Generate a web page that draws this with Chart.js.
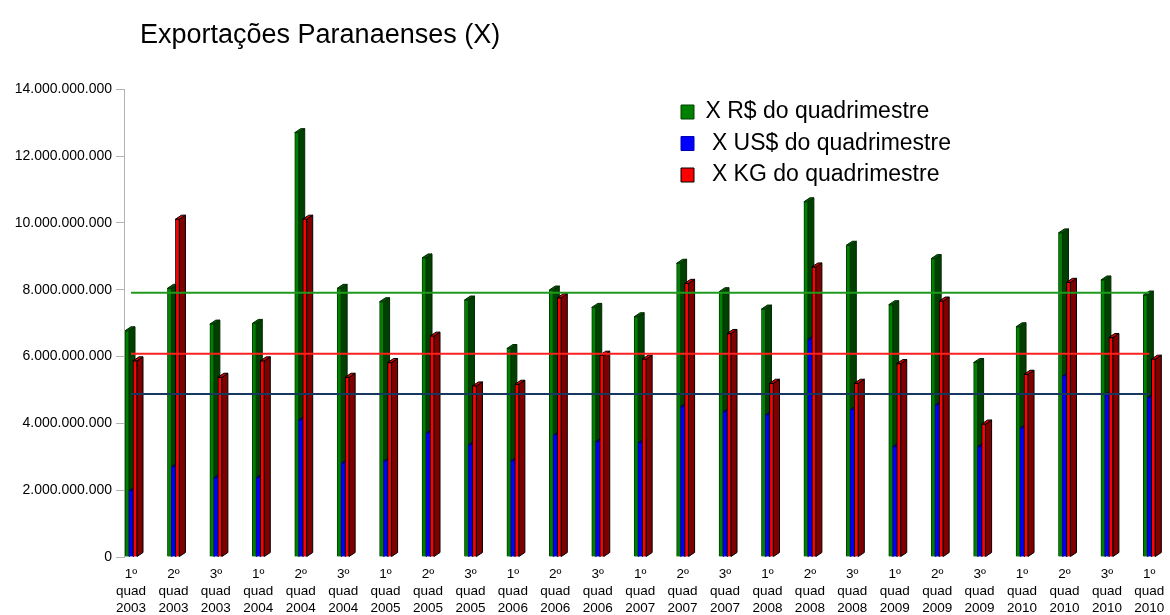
<!DOCTYPE html>
<html lang="pt-BR">
<head>
<meta charset="utf-8">
<title>Exportações Paranaenses (X)</title>
<script src="https://cdn.jsdelivr.net/npm/chart.js@4/dist/chart.umd.min.js"></script>
<style>
  html, body { margin: 0; padding: 0; background: #fff; }
  #caixa { width: 1170px; height: 615px; }
</style>
</head>
<body>
<div id="caixa"><canvas id="grafico"></canvas></div>
<script>
// quadrimestres (rótulos do eixo x, 3 linhas cada)
const rotulos = [
  ['1º', 'quad', '2003'], ['2º', 'quad', '2003'], ['3º', 'quad', '2003'],
  ['1º', 'quad', '2004'], ['2º', 'quad', '2004'], ['3º', 'quad', '2004'],
  ['1º', 'quad', '2005'], ['2º', 'quad', '2005'], ['3º', 'quad', '2005'],
  ['1º', 'quad', '2006'], ['2º', 'quad', '2006'], ['3º', 'quad', '2006'],
  ['1º', 'quad', '2007'], ['2º', 'quad', '2007'], ['3º', 'quad', '2007'],
  ['1º', 'quad', '2008'], ['2º', 'quad', '2008'], ['3º', 'quad', '2008'],
  ['1º', 'quad', '2009'], ['2º', 'quad', '2009'], ['3º', 'quad', '2009'],
  ['1º', 'quad', '2010'], ['2º', 'quad', '2010'], ['3º', 'quad', '2010'],
  ['1º', 'quad', '2010']
];

const valoresRS = [6.77e9, 8.04e9, 6.97e9, 6.99e9, 12.70e9, 8.04e9, 7.64e9, 8.95e9, 7.69e9, 6.24e9,
  7.99e9, 7.47e9, 7.19e9, 8.79e9, 7.94e9, 7.42e9, 10.63e9, 9.33e9, 7.55e9, 8.93e9,
  5.82e9, 6.89e9, 9.70e9, 8.29e9, 7.84e9];
const valoresUS = [1.98e9, 2.70e9, 2.37e9, 2.37e9, 4.10e9, 2.80e9, 2.86e9, 3.70e9, 3.35e9, 2.87e9,
  3.64e9, 3.45e9, 3.42e9, 4.49e9, 4.34e9, 4.25e9, 6.51e9, 4.41e9, 3.30e9, 4.55e9,
  3.30e9, 3.85e9, 5.41e9, 4.85e9, 4.77e9];
const valoresKG = [5.87e9, 10.11e9, 5.38e9, 5.87e9, 10.11e9, 5.38e9, 5.82e9, 6.61e9, 5.12e9, 5.17e9,
  7.76e9, 6.04e9, 5.92e9, 8.19e9, 6.69e9, 5.20e9, 8.68e9, 5.20e9, 5.79e9, 7.66e9,
  3.98e9, 5.47e9, 8.22e9, 6.57e9, 5.92e9];

// linhas horizontais (médias)
const mediaRS = 7.91e9;
const mediaKG = 6.08e9;
const mediaUS = 4.88e9;

const yMax = 14e9;
const yPasso = 2e9;

const PROF = 6;   // profundidade do efeito 3D
const SOBE = 4;

Chart.defaults.font.family = '"Liberation Sans", Arial, sans-serif';
Chart.defaults.color = '#000';

function pontos(vals) {
  return vals.map((v, i) => ({ x: i, y: v }));
}
function linha(v) {
  return [{ x: 0, y: v }, { x: rotulos.length - 1, y: v }];
}
function milhar(v) {
  return String(v).replace(/\B(?=(\d{3})+(?!\d))/g, '.');
}

// desenha as barras com face lateral e topo (3D)
const barras3d = {
  id: 'barras3d',
  beforeDatasetDraw(chart, args) {
    if (args.meta.type === 'bar') return false;
  },
  beforeDatasetsDraw(chart) {
    const ctx = chart.ctx;
    chart.data.datasets.forEach((ds, i) => {
      const meta = chart.getDatasetMeta(i);
      if (meta.type !== 'bar' || meta.hidden) return;
      meta.data.forEach(bar => {
        const xl = bar.x - bar.width / 2;
        const xr = bar.x + bar.width / 2;
        const topo = bar.y, base = bar.base;
        ctx.save();
        ctx.lineWidth = 1;
        ctx.strokeStyle = ds.corBordaLado;
        ctx.fillStyle = ds.corLado;
        ctx.beginPath();
        ctx.moveTo(xr, topo);
        ctx.lineTo(xr + PROF, topo - SOBE);
        ctx.lineTo(xr + PROF, base - SOBE);
        ctx.lineTo(xr, base);
        ctx.closePath();
        ctx.fill();
        ctx.stroke();
        ctx.fillStyle = ds.corTopo;
        ctx.beginPath();
        ctx.moveTo(xl, topo);
        ctx.lineTo(xl + PROF, topo - SOBE);
        ctx.lineTo(xr + PROF, topo - SOBE);
        ctx.lineTo(xr, topo);
        ctx.closePath();
        ctx.fill();
        ctx.stroke();
        ctx.restore();
        bar.draw(ctx);
      });
    });
  }
};

// título e legenda nas posições do original
const posicoes = {
  id: 'posicoes',
  afterLayout(chart) {
    const t = chart.titleBlock;
    t.left = 140;
    t.right = 1170;
    const lg = chart.legend;
    const w = lg.width, h = lg.height;
    lg.left = 672.5;
    lg.top = 92;
    lg.right = lg.left + w;
    lg.bottom = lg.top + h;
  }
};

new Chart(document.getElementById('grafico'), {
  type: 'bar',
  data: {
    datasets: [{
      label: 'X R$ do quadrimestre',
      data: pontos(valoresRS),
      backgroundColor: '#008000',
      borderColor: '#004000',
      borderWidth: 1,
      corLado: '#004000',
      corTopo: '#005800',
      corBordaLado: '#002800',
      barThickness: 4
    }, {
      label: ' X US$ do quadrimestre',
      data: pontos(valoresUS),
      backgroundColor: '#0000ff',
      borderColor: '#0000b0',
      borderWidth: 1,
      corLado: '#000080',
      corTopo: '#0000c0',
      corBordaLado: '#000040',
      barThickness: 4
    }, {
      label: ' X KG do quadrimestre',
      data: pontos(valoresKG),
      backgroundColor: '#ff0000',
      borderColor: '#000000',
      borderWidth: 1,
      corLado: '#800000',
      corTopo: '#e00000',
      corBordaLado: '#000000',
      barThickness: 4
    }, {
      type: 'line',
      label: 'média R$',
      data: linha(mediaRS),
      borderColor: '#1f9a1f',
      borderWidth: 2,
      pointRadius: 0
    }, {
      type: 'line',
      label: 'média KG',
      data: linha(mediaKG),
      borderColor: '#ff2020',
      borderWidth: 2,
      pointRadius: 0
    }, {
      type: 'line',
      label: 'média US$',
      data: linha(mediaUS),
      borderColor: '#17375e',
      borderWidth: 2,
      pointRadius: 0
    }]
  },
  options: {
    responsive: true,
    maintainAspectRatio: false,
    animation: false,
    layout: { padding: { right: 2 } },
    plugins: {
      title: {
        display: true,
        text: 'Exportações Paranaenses (X)',
        align: 'start',
        color: '#000',
        font: { size: 27, weight: 'normal' },
        padding: { top: 19, bottom: 37.8 }
      },
      legend: {
        position: 'chartArea',
        align: 'start',
        labels: {
          filter: item => item.datasetIndex < 3,
          boxWidth: 13,
          boxHeight: 14,
          padding: 8.5,
          color: '#000',
          font: { size: 23 }
        }
      },
      tooltip: { enabled: false }
    },
    scales: {
      x: {
        type: 'linear',
        offset: false,
        min: -0.165,
        max: 24.44,
        grid: { display: false, drawTicks: false },
        border: { display: false },
        afterBuildTicks(scale) {
          scale.ticks = rotulos.map((r, i) => ({ value: i }));
        },
        afterFit(scale) {
          scale.height = 58;
          scale.paddingLeft = 0;
          scale.paddingRight = 0;
        },
        ticks: {
          autoSkip: false,
          maxRotation: 0,
          minRotation: 0,
          padding: 9,
          color: '#000',
          font: { size: 13.5, lineHeight: 1.25 },
          callback: v => rotulos[v]
        }
      },
      y: {
        min: 0,
        max: yMax,
        afterFit(scale) { scale.width = 124; },
        grid: { drawOnChartArea: false, drawTicks: true, tickLength: 8, color: '#b3b3b3' },
        border: { color: '#b3b3b3', width: 1 },
        ticks: {
          stepSize: yPasso,
          padding: 4,
          color: '#000',
          font: { size: 14 },
          callback: v => milhar(v)
        }
      }
    }
  },
  plugins: [barras3d, posicoes]
});
</script>
</body>
</html>
